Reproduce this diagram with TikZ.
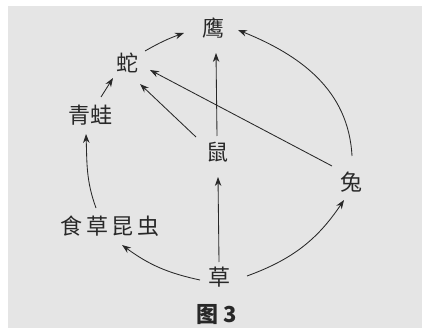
\documentclass[tikz,border=0pt]{standalone}
\usepackage{fontspec}
\newfontfamily\cjk{Noto Sans CJK SC}
\usetikzlibrary{arrows.meta}
\definecolor{bg}{RGB}{229,229,229}
\definecolor{ink}{RGB}{40,40,40}
\tikzset{
  lbl/.style={font=\cjk\fontsize{22}{22}\selectfont, text=ink, inner sep=1pt},
  arr/.style={draw=ink, line width=0.85pt, -{Stealth[length=9pt,width=6.5pt]}},
}
\begin{document}
\begin{tikzpicture}[x=1pt,y=-1pt]
\useasboundingbox (0,0) rectangle (422,328);
\fill[white] (0,0) rectangle (422,328);
\fill[bg] (8,6) rectangle (422,328);
\node[lbl] (ying) at (213,28) {鹰};
\node[lbl] (she) at (127,63) {蛇};
\node[lbl] (wa) at (90,115) {青蛙};
\node[lbl] (shu) at (217,152) {鼠};
\node[lbl] (tu) at (351,182) {兔};
\node[lbl] (kc) at (110,226) {食\,草\,昆\,虫};
\node[lbl] (cao) at (219,277) {草};
\node[font=\cjk\bfseries\fontsize{22}{22}\selectfont, text=ink] (cap) at (217,315) {图 3};
\coordinate (s1) at (145,51); \coordinate (t1) at (184,33);
\draw[arr] (s1) to[bend left=5] (t1);
\coordinate (s2) at (217,136); \coordinate (t2) at (216,53);
\draw[arr] (s2) -- (t2);
\coordinate (s3) at (352,156); \coordinate (t3) at (238,30);
\draw[arr] (s3) to[out=93,in=-22,looseness=1] (t3);
\coordinate (s4) at (101,97); \coordinate (t4) at (113,78);
\draw[arr] (s4) -- (t4);
\coordinate (s5) at (196,137); \coordinate (t5) at (140,84);
\draw[arr] (s5) -- (t5);
\coordinate (s6) at (332,166); \coordinate (t6) at (150,70);
\draw[arr] (s6) -- (t6);
\coordinate (s7) at (96,208); \coordinate (t7) at (86,134);
\draw[arr] (s7) to[out=110,in=-88,looseness=1] (t7);
\coordinate (s8) at (219,262); \coordinate (t8) at (218,177);
\draw[arr] (s8) -- (t8);
\coordinate (s9) at (200,280); \coordinate (t9) at (122,245);
\draw[arr] (s9) to[bend left=12] (t9);
\coordinate (s10) at (247,276); \coordinate (t10) at (344,200);
\draw[arr] (s10) to[bend right=18] (t10);
\end{tikzpicture}
\end{document}
